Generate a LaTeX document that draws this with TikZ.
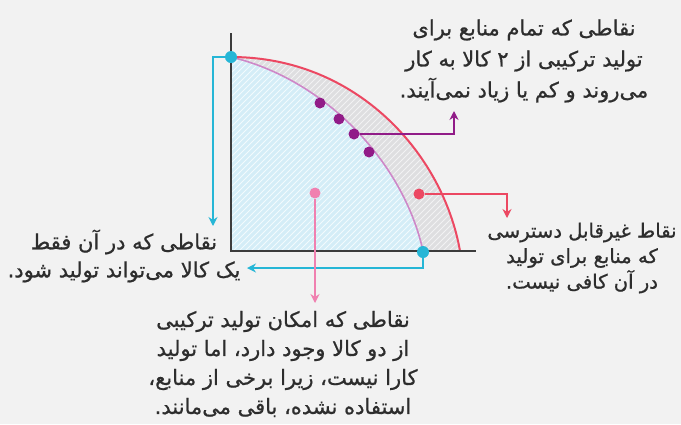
\documentclass[tikz,border=0pt]{standalone}
\usepackage{fontspec}
\newfontfamily\farsi[Script=Arabic, FakeBold=0.8]{DejaVu Sans}
\TeXXeTstate=1
\usetikzlibrary{arrows.meta, patterns}
\definecolor{bggray}{RGB}{242,242,242}
\definecolor{axgray}{RGB}{60,60,60}
\definecolor{txtgray}{RGB}{45,45,45}
\definecolor{blfill}{RGB}{212,237,247}
\definecolor{bandfill}{RGB}{222,222,224}
\definecolor{ppfcyan}{RGB}{38,182,214}
\definecolor{ppfred}{RGB}{236,72,98}
\definecolor{ppfpink}{RGB}{240,128,176}
\definecolor{ppfpurple}{RGB}{145,28,136}
\definecolor{ppfline}{RGB}{206,136,200}
\newcommand{\fa}[1]{\beginR #1\endR}

\begin{document}
\begin{tikzpicture}[x=0.5pt, y=-0.5pt, >=Stealth,
    dotc/.style={circle, fill=#1, inner sep=0pt, minimum size=5.5pt},
    lead/.style={draw=#1, line width=1pt, -{Stealth[length=4.5pt, width=4.5pt]}},
    note/.style={font=\farsi\fontsize{10.5}{14}\selectfont, text=txtgray, align=center, inner sep=0pt}]
    % --- fond ---
    \fill[bggray] (0,0) rectangle (681,424);
    \useasboundingbox (0,0) rectangle (681,424);

    % --- zones ---
    \fill[blfill] (231,251) -- (231,57) .. controls (327,80) and (404,164) .. (423,251) -- cycle;
    \fill[pattern=north east lines, pattern color=white!70!blfill]
        (231,251) -- (231,57) .. controls (327,80) and (404,164) .. (423,251) -- cycle;
    \fill[bandfill] (231,57) .. controls (357,57) and (443,154) .. (460,251)
        -- (423,251) .. controls (404,164) and (327,80) .. (231,57) -- cycle;
    \fill[pattern=north east lines, pattern color=white!60!bandfill]
        (231,57) .. controls (357,57) and (443,154) .. (460,251)
        -- (423,251) .. controls (404,164) and (327,80) .. (231,57) -- cycle;

    % --- courbes ---
    \draw[ppfline, line width=0.8pt] (231,57) .. controls (327,80) and (404,164) .. (423,251);
    \draw[ppfred, line width=1pt] (231,57) .. controls (357,57) and (443,154) .. (460,251);

    % --- axes ---
    \draw[axgray, line width=1.3pt] (231,33) -- (231,251) -- (476,251);

    % --- points ---
    \node[dotc=ppfcyan, minimum size=6pt] (dtop) at (231,57) {};
    \node[dotc=ppfcyan, minimum size=6pt] (dbot) at (423,252) {};
    \node[dotc=ppfpurple] (dpa) at (320,103) {};
    \node[dotc=ppfpurple] (dpb) at (339,119) {};
    \node[dotc=ppfpurple] (dpc) at (354,134) {};
    \node[dotc=ppfpurple] (dpd) at (369,152) {};
    \node[dotc=ppfred] (dred) at (419,194) {};
    \node[dotc=ppfpink] (dpink) at (315,193) {};

    % --- extremites des fleches ---
    \coordinate (tipA) at (213,226);
    \coordinate (tipB) at (247,268);
    \coordinate (tipC) at (507,218);
    \coordinate (tipD) at (315,303);
    \coordinate (tipE) at (454,111);

    \draw[lead=ppfcyan] (dtop) -| (tipA);
    \draw[lead=ppfcyan] (dbot) |- (tipB);
    \draw[lead=ppfred] (dred) -| (tipC);
    \draw[lead=ppfpink] (dpink) -- (tipD);
    \draw[lead=ppfpurple] (dpc) -| (tipE);

    % --- textes ---
    \node[note, font=\farsi\fontsize{10.5}{15.5}\selectfont] (tplein) at (524,61)
        {\fa{نقاطی که تمام منابع برای}\\ \fa{تولید ترکیبی از ۲ کالا به کار}\\ \fa{می‌روند و کم یا زیاد نمی‌آیند.}};
    \node[note] (tun) at (124,256)
        {\fa{نقاطی که در آن فقط}\\ \fa{یک کالا می‌تواند تولید شود.}};
    \node[note, font=\farsi\fontsize{9.8}{12.75}\selectfont] (thors) at (582,258)
        {\fa{نقاط غیرقابل دسترسی}\\ \fa{که منابع برای تولید}\\ \fa{در آن کافی نیست.}};
    \node[note, font=\farsi\fontsize{10.5}{14.5}\selectfont] (tdans) at (283,364)
        {\fa{نقاطی که امکان تولید ترکیبی}\\ \fa{از دو کالا وجود دارد، اما تولید}\\ \fa{کارا نیست، زیرا برخی از منابع،}\\ \fa{استفاده نشده، باقی می‌مانند.}};
\end{tikzpicture}
\end{document}
